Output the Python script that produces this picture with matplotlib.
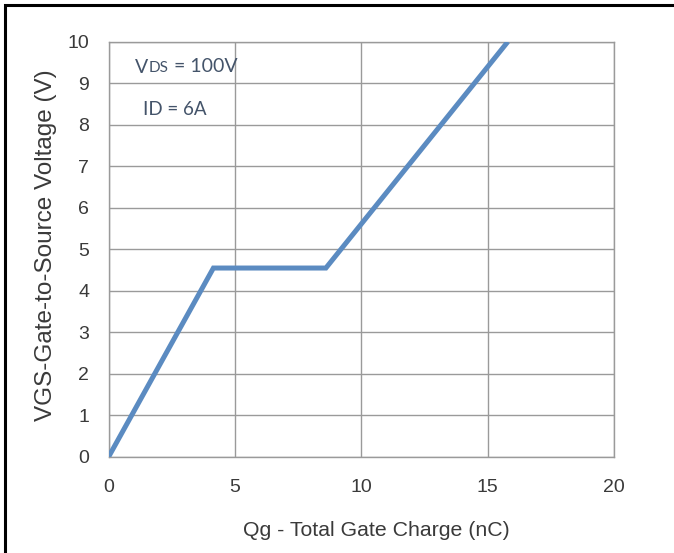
import matplotlib
matplotlib.use('Agg')

from matplotlib import pyplot as plt
from matplotlib.patches import Rectangle

# gate charge curve
qg = [0, 4.15, 8.6, 15.8]
vgs = [0, 4.55, 4.55, 10]

x_ticks = [0, 5, 10, 15, 20]
y_ticks = list(range(0, 11))

x_label = "Qg - Total Gate Charge (nC)"
y_label = "VGS-Gate-to-Source Voltage (V)"

plt.rcParams['font.family'] = ['Liberation Sans', 'DejaVu Sans']

fig = plt.figure(figsize=(6.74, 5.53), dpi=100)
ax = fig.add_axes([0.161, 0.1736, 0.75, 0.7510])

ax.plot(qg, vgs, color='#5b8bc1', linewidth=3.6, solid_capstyle='butt', solid_joinstyle='miter', zorder=3)

ax.set_xlim(0, 20)
ax.set_ylim(0, 10)
ax.set_xticks(x_ticks)
ax.set_yticks(y_ticks)
ax.grid(True, color='#9a9a9a', linewidth=1.0)
ax.set_axisbelow(True)
for s in ax.spines.values():
    s.set_color('#9a9a9a')
    s.set_linewidth(1.0)
ax.tick_params(length=0, labelsize=14, labelcolor='#3a3a3a')
ax.tick_params(axis='x', pad=16)
ax.tick_params(axis='y', pad=14)

ax.set_xlabel(x_label, fontsize=15.3, color='#3a3a3a')
ax.xaxis.set_label_coords(0.529, -0.153)
ax.set_ylabel(y_label, fontsize=17.5, color='#3a3a3a')
ax.yaxis.set_label_coords(-0.102, 0.51)

# annotations, VDS written with smaller DS like the original
ann_color = '#44546a'
t1 = ax.text(1.05, 9.25, "V", fontsize=14, color=ann_color, va='baseline', family='Lato')
t2 = ax.annotate("DS", xy=(1, 0), xycoords=t1, xytext=(0.5, 2.6), textcoords='offset points',
                 fontsize=11, color=ann_color, va='baseline', family='Lato')
ax.annotate(" = 100V", xy=(1, 0), xycoords=t2, xytext=(0, 2.2), textcoords='offset points',
            fontsize=14, color=ann_color, va='baseline', family='Lato')
ax.text(1.37, 8.24, "ID = 6A", fontsize=13.5, color=ann_color, va='baseline', family='Lato')

# outer frame, cut off on the right and bottom like the screenshot
fig.patches.append(Rectangle((4.5 / 674, -0.05), 1.2, 1 - 4.5 / 553 + 0.05, transform=fig.transFigure,
                             fill=False, edgecolor='black', linewidth=2.2))

fig.savefig('out.png', dpi=100)
